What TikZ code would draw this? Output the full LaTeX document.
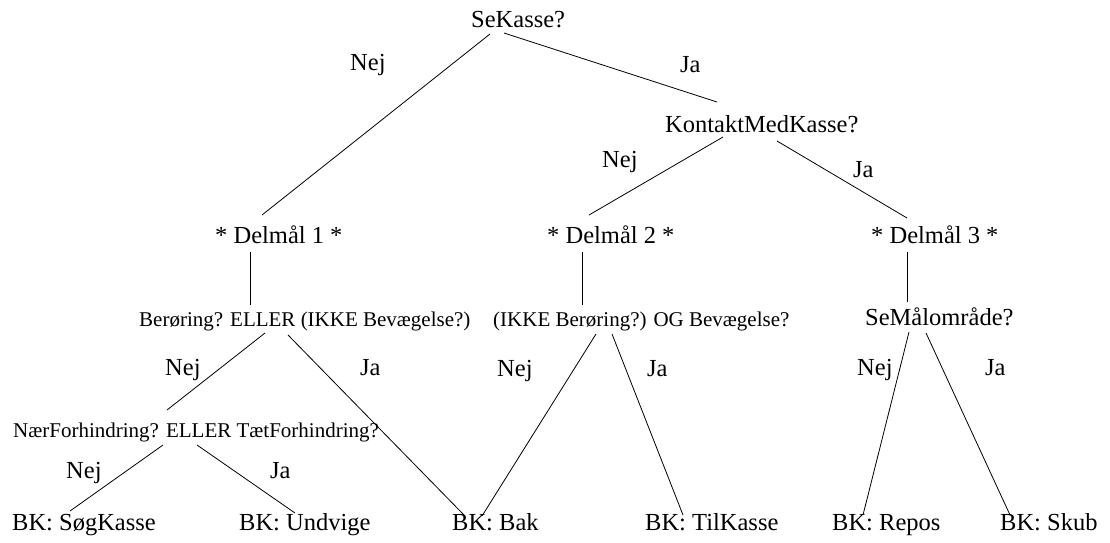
\documentclass[tikz,border=0pt]{standalone}
\usepackage{fontspec}
\setmainfont{Liberation Serif}
\begin{document}
\begin{tikzpicture}[x=1pt,y=-1pt,
  big/.style={anchor=base west, inner sep=0pt, font=\fontsize{24.5}{29}\selectfont},
  small/.style={anchor=base west, inner sep=0pt, font=\fontsize{21}{25}\selectfont},
  edge/.style={line width=0.8pt, black}]
\useasboundingbox (0,0) rectangle (1110,542);
% question / goal nodes
\node[big] (q0) at (471,27) {SeKasse?};
\node[big] (q1) at (665,132) {KontaktMedKasse?};
\node[big] (d1) at (215,243) {* Delmål 1 *};
\node[big] (d2) at (547,243) {* Delmål 2 *};
\node[big] (d3) at (871,243) {* Delmål 3 *};
\node[small] (c1) at (139,326) {Berøring? ELLER (IKKE Bevægelse?)};
\node[small] (c2) at (493,326) {(IKKE Berøring?) OG Bevægelse?};
\node[big] (c3) at (865,325) {SeMålområde?};
\node[small] (c4) at (13,437) {NærForhindring? ELLER TætForhindring?};
% leaves
\node[big] (b1) at (12,530) {BK: SøgKasse};
\node[big] (b2) at (239,530) {BK: Undvige};
\node[big] (b3) at (452,530) {BK: Bak};
\node[big] (b4) at (645,530) {BK: TilKasse};
\node[big] (b5) at (832,530) {BK: Repos};
\node[big] (b6) at (1000,530) {BK: Skub};
% edge labels
\node[big] (l1) at (350,70) {Nej};
\node[big] (l2) at (680,72) {Ja};
\node[big] (l3) at (602,167) {Nej};
\node[big] (l4) at (853,177) {Ja};
\node[big] (l5) at (165,375) {Nej};
\node[big] (l6) at (360,375) {Ja};
\node[big] (l7) at (497,376) {Nej};
\node[big] (l8) at (647,376) {Ja};
\node[big] (l9) at (857,375) {Nej};
\node[big] (l10) at (985,375) {Ja};
\node[big] (l11) at (66,478) {Nej};
\node[big] (l12) at (270,478) {Ja};
% connector end points
\coordinate (q0a) at (490,34);   \coordinate (d1t) at (262,215);
\coordinate (q0b) at (504,33);   \coordinate (q1t) at (717,102);
\coordinate (q1a) at (723,137);  \coordinate (d2t) at (589,215);
\coordinate (q1b) at (777,141);  \coordinate (d3t) at (907,218);
\coordinate (d1b) at (250,252);  \coordinate (c1t) at (250,305);
\coordinate (d2b) at (582,252);  \coordinate (c2t) at (582,305);
\coordinate (d3b) at (907,252);  \coordinate (c3t) at (907,302);
\coordinate (c1a) at (265,333);  \coordinate (c4t) at (167,410);
\coordinate (c1b) at (288,335);  \coordinate (b3ta) at (464,515);
\coordinate (c2a) at (596,334);  \coordinate (b3tb) at (482,516);
\coordinate (c2b) at (612,334);  \coordinate (b4t) at (683,515);
\coordinate (c3a) at (909,332);  \coordinate (b5t) at (863,515);
\coordinate (c3b) at (926,333);  \coordinate (b6t) at (1010,515);
\coordinate (c4a) at (163,445);  \coordinate (b1t) at (70,511);
\coordinate (c4b) at (197,445);  \coordinate (b2t) at (295,513);
% connectors
\draw[edge] (q0a) -- (d1t);
\draw[edge] (q0b) -- (q1t);
\draw[edge] (q1a) -- (d2t);
\draw[edge] (q1b) -- (d3t);
\draw[edge] (d1b) -- (c1t);
\draw[edge] (d2b) -- (c2t);
\draw[edge] (d3b) -- (c3t);
\draw[edge] (c1a) -- (c4t);
\draw[edge] (c1b) -- (b3ta);
\draw[edge] (c2a) -- (b3tb);
\draw[edge] (c2b) -- (b4t);
\draw[edge] (c3a) -- (b5t);
\draw[edge] (c3b) -- (b6t);
\draw[edge] (c4a) -- (b1t);
\draw[edge] (c4b) -- (b2t);
\end{tikzpicture}
\end{document}
